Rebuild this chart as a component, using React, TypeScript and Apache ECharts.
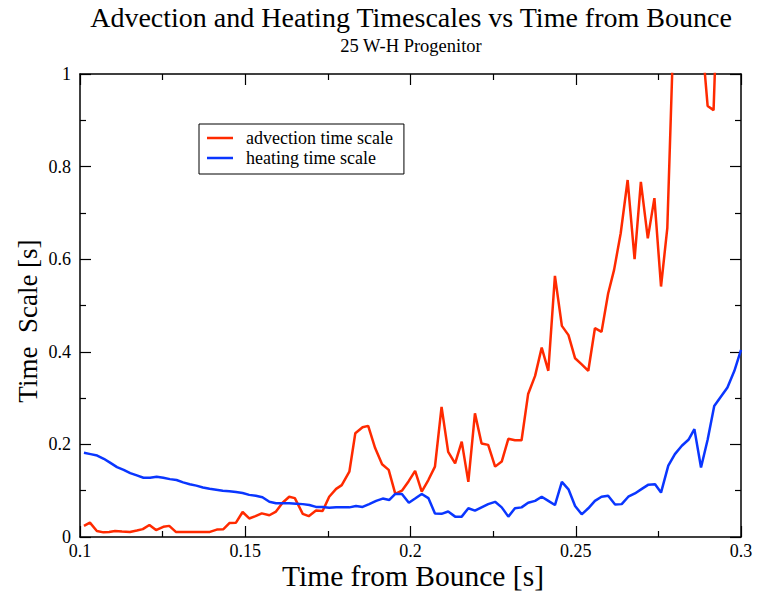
import React, { useEffect, useRef } from "react";
import * as echarts from "echarts";

const titleText = "Advection and Heating Timescales vs Time from Bounce";
const subtitleText = "25 W-H Progenitor";
const xAxisName = "Time from Bounce [s]";
const yAxisName = "Time  Scale [s]";
const seriesNames = ["advection time scale", "heating time scale"];

// advection time scale: [time from bounce (s), time scale (s)]
const advection: [number, number][] = [
  [0.1012, 0.024], [0.1030, 0.031], [0.1051, 0.013], [0.1071, 0.010], [0.1088, 0.011],
  [0.1106, 0.013], [0.1127, 0.012], [0.1151, 0.011], [0.1172, 0.014], [0.1190, 0.017],
  [0.1210, 0.026], [0.1230, 0.015], [0.1252, 0.022], [0.1270, 0.024], [0.1290, 0.011],
  [0.1312, 0.011], [0.1333, 0.011], [0.1353, 0.011], [0.1372, 0.011], [0.1393, 0.011],
  [0.1414, 0.016], [0.1434, 0.017], [0.1452, 0.030], [0.1472, 0.031], [0.1492, 0.054],
  [0.1512, 0.040], [0.1531, 0.045], [0.1550, 0.051], [0.1573, 0.047], [0.1593, 0.055],
  [0.1613, 0.074], [0.1633, 0.087], [0.1650, 0.084], [0.1674, 0.050], [0.1692, 0.045],
  [0.1714, 0.057], [0.1734, 0.056], [0.1754, 0.087], [0.1775, 0.104], [0.1792, 0.112],
  [0.1815, 0.141], [0.1833, 0.224], [0.1855, 0.237], [0.1872, 0.240], [0.1893, 0.192],
  [0.1914, 0.157], [0.1934, 0.145], [0.1954, 0.093], [0.1974, 0.100], [0.1994, 0.120],
  [0.2014, 0.143], [0.2034, 0.098], [0.2054, 0.123], [0.2074, 0.152], [0.2094, 0.281],
  [0.2114, 0.184], [0.2135, 0.159], [0.2155, 0.206], [0.2175, 0.119], [0.2195, 0.267],
  [0.2215, 0.202], [0.2235, 0.199], [0.2256, 0.152], [0.2276, 0.163], [0.2296, 0.212],
  [0.2316, 0.209], [0.2336, 0.209], [0.2356, 0.309], [0.2377, 0.348], [0.2397, 0.409],
  [0.2417, 0.359], [0.2437, 0.564], [0.2458, 0.456], [0.2478, 0.436], [0.2498, 0.386],
  [0.2518, 0.373], [0.2538, 0.359], [0.2558, 0.451], [0.2578, 0.443], [0.2598, 0.526],
  [0.2616, 0.577], [0.2636, 0.656], [0.2657, 0.771], [0.2678, 0.600], [0.2697, 0.767],
  [0.2718, 0.645], [0.2738, 0.732], [0.2758, 0.541], [0.2777, 0.667], [0.2797, 1.12],
  [0.2817, 1.30], [0.2837, 1.40], [0.2857, 1.30], [0.2879, 1.10], [0.2899, 0.931],
  [0.2917, 0.922], [0.2935, 1.30], [0.2955, 1.40], [0.2975, 1.50], [0.3000, 1.60],
];

// heating time scale
const heating: [number, number][] = [
  [0.1012, 0.182], [0.1032, 0.179], [0.1052, 0.176], [0.1072, 0.169], [0.1092, 0.160],
  [0.1112, 0.151], [0.1132, 0.145], [0.1152, 0.138], [0.1172, 0.133], [0.1192, 0.128],
  [0.1212, 0.128], [0.1232, 0.130], [0.1252, 0.128], [0.1272, 0.125], [0.1292, 0.123],
  [0.1312, 0.118], [0.1332, 0.114], [0.1352, 0.111], [0.1372, 0.107], [0.1392, 0.104],
  [0.1412, 0.102], [0.1432, 0.100], [0.1452, 0.099], [0.1472, 0.097], [0.1492, 0.095],
  [0.1512, 0.091], [0.1532, 0.089], [0.1552, 0.086], [0.1573, 0.076], [0.1593, 0.073],
  [0.1613, 0.073], [0.1633, 0.073], [0.1654, 0.072], [0.1674, 0.071], [0.1694, 0.069],
  [0.1714, 0.065], [0.1734, 0.065], [0.1754, 0.063], [0.1775, 0.064], [0.1795, 0.064],
  [0.1815, 0.064], [0.1835, 0.067], [0.1855, 0.065], [0.1875, 0.071], [0.1896, 0.078],
  [0.1916, 0.083], [0.1936, 0.080], [0.1954, 0.093], [0.1974, 0.093], [0.1995, 0.074],
  [0.2014, 0.083], [0.2034, 0.093], [0.2054, 0.084], [0.2074, 0.051], [0.2094, 0.050],
  [0.2114, 0.055], [0.2135, 0.044], [0.2155, 0.044], [0.2175, 0.062], [0.2195, 0.057],
  [0.2215, 0.064], [0.2235, 0.071], [0.2256, 0.076], [0.2276, 0.064], [0.2296, 0.044],
  [0.2316, 0.062], [0.2336, 0.064], [0.2356, 0.074], [0.2377, 0.078], [0.2397, 0.087],
  [0.2417, 0.078], [0.2437, 0.069], [0.2458, 0.119], [0.2478, 0.103], [0.2498, 0.067],
  [0.2518, 0.049], [0.2538, 0.062], [0.2558, 0.078], [0.2578, 0.087], [0.2598, 0.089],
  [0.2619, 0.070], [0.2639, 0.071], [0.2659, 0.087], [0.2679, 0.094], [0.2700, 0.104],
  [0.2720, 0.113], [0.2740, 0.114], [0.2758, 0.096], [0.2780, 0.154], [0.2800, 0.179],
  [0.2821, 0.197], [0.2841, 0.210], [0.2859, 0.233], [0.2879, 0.150], [0.2899, 0.210],
  [0.2919, 0.283], [0.2939, 0.303], [0.2959, 0.323], [0.2980, 0.359], [0.3000, 0.404],
];

const FONT = "'Liberation Serif', 'Times New Roman', serif";
const RED = "#ff2a00";
const BLUE = "#0a36ff";

export default function App() {
  const ref = useRef<HTMLDivElement>(null);
  useEffect(() => {
    document.body.style.margin = "0";
    if (!ref.current) return;
    const chart = echarts.init(ref.current, null, { renderer: "svg" });
    const axisCommon = {
      type: "value" as const,
      axisLine: { show: true, onZero: false, lineStyle: { color: "#000", width: 1.5 } },
      axisTick: { show: true, inside: true, length: 11, lineStyle: { color: "#000", width: 1.2 } },
      minorTick: { show: true, splitNumber: 2, length: 6, lineStyle: { color: "#000", width: 1.2 } },
      splitLine: { show: false },
    };
    chart.setOption({
      animation: false,
      backgroundColor: "#fff",
      title: {
        text: titleText,
        subtext: subtitleText,
        left: 406,
        textAlign: "center",
        top: -2,
        itemGap: 5,
        textStyle: { fontFamily: FONT, fontSize: 28, fontWeight: "normal", color: "#000" },
        subtextStyle: { fontFamily: FONT, fontSize: 18.5, color: "#000" },
      },
      legend: {
        orient: "vertical",
        left: 199,
        top: 124,
        padding: [5, 11, 7, 8],
        itemGap: 2,
        itemWidth: 26,
        itemHeight: 2.5,
        icon: "rect",
        borderColor: "#000",
        borderWidth: 1,
        backgroundColor: "#fff",
        textStyle: { fontFamily: FONT, fontSize: 18, color: "#000", padding: [0, 0, 0, 8] },
        data: seriesNames,
      },
      grid: { left: 80, right: 16, top: 74, bottom: 56, containLabel: false, outerBoundsMode: "none" },
      graphic: [
        {
          type: "text",
          x: 28,
          y: 321,
          rotation: Math.PI / 2,
          style: {
            text: yAxisName,
            fontFamily: FONT,
            fontSize: 27,
            fill: "#000",
            textAlign: "center",
            textVerticalAlign: "middle",
          },
        },
      ],
      xAxis: [
        {
          ...axisCommon,
          position: "bottom",
          min: 0.1,
          max: 0.3,
          interval: 0.05,
          name: xAxisName,
          nameLocation: "middle",
          nameGap: 25,
          nameMoveOverlap: false,
          nameTextStyle: {
            fontFamily: FONT,
            fontSize: 29.5,
            lineHeight: 28,
            color: "#000",
            padding: [0, 0, 0, 5],
          },
          axisLabel: { fontFamily: FONT, fontSize: 18, lineHeight: 16, color: "#000", margin: 6 },
        },
        {
          ...axisCommon,
          position: "top",
          min: 0.1,
          max: 0.3,
          interval: 0.05,
          axisLabel: { show: false },
        },
      ],
      yAxis: [
        {
          ...axisCommon,
          position: "left",
          min: 0,
          max: 1,
          interval: 0.2,
          axisLabel: { fontFamily: FONT, fontSize: 18, color: "#000", margin: 9 },
        },
        {
          ...axisCommon,
          position: "right",
          min: 0,
          max: 1,
          interval: 0.2,
          axisLabel: { show: false },
        },
      ],
      series: [
        {
          name: seriesNames[0],
          type: "line",
          data: advection,
          showSymbol: false,
          symbol: "none",
          clip: true,
          color: RED,
          lineStyle: { color: RED, width: 2.5 },
        },
        {
          name: seriesNames[1],
          type: "line",
          data: heating,
          showSymbol: false,
          symbol: "none",
          clip: true,
          color: BLUE,
          lineStyle: { color: BLUE, width: 2.5 },
        },
      ],
    });
    return () => chart.dispose();
  }, []);
  return <div ref={ref} style={{ width: 757, height: 593 }} />;
}
